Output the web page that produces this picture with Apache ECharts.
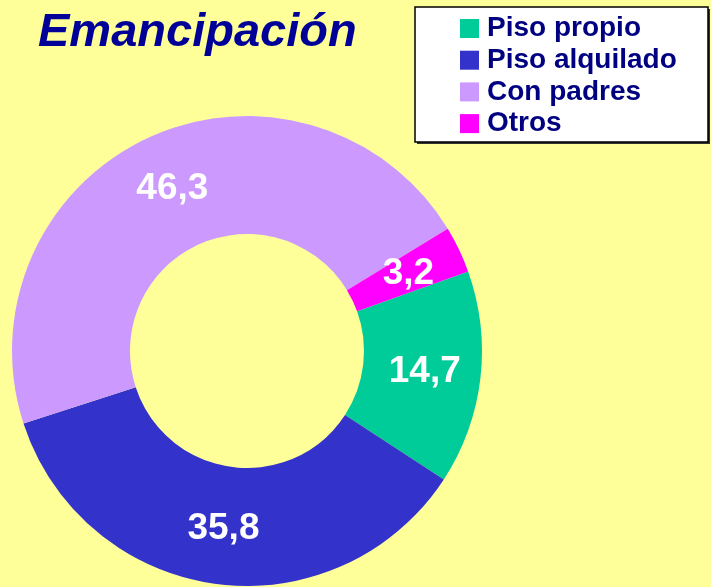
<!DOCTYPE html>
<html>
<head>
<meta charset="utf-8">
<script src="https://cdn.jsdelivr.net/npm/echarts@6/dist/echarts.min.js"></script>
<style>
  html, body { margin: 0; padding: 0; background: #FFFF99; }
  #chart { width: 711px; height: 587px; }
</style>
</head>
<body>
<div id="chart"></div>
<script>
// datos
var categorias = ['Piso propio', 'Piso alquilado', 'Con padres', 'Otros'];
var valores = [14.7, 35.8, 46.3, 3.2];
var colores = ['#00CC99', '#3333CC', '#CC99FF', '#FF00FF'];

var chart = echarts.init(document.getElementById('chart'));

var datos = categorias.map(function(nombre, i) {
  return { name: nombre, value: valores[i], itemStyle: { color: colores[i] } };
});

var option = {
  backgroundColor: '#FFFF99',
  animation: false,
  title: {
    text: 'Emancipación',
    left: 33,
    top: 5,
    textStyle: {
      fontFamily: 'Liberation Sans, Arial, sans-serif',
      fontSize: 47,
      fontWeight: 'bold',
      fontStyle: 'italic',
      color: '#000099'
    }
  },
  graphic: [
    { type: 'rect', z: 0, shape: { x: 417, y: 9, width: 293, height: 135 }, style: { fill: '#333' } },
    { type: 'rect', z: 1, shape: { x: 415, y: 7, width: 293, height: 135 },
      style: { fill: '#fff', stroke: '#000', lineWidth: 1.5 } }
  ],
  legend: {
    orient: 'vertical',
    left: 455,
    top: 9.5,
    z: 5,
    icon: 'rect',
    itemWidth: 19,
    itemHeight: 19,
    itemGap: 3.7,
    selectedMode: false,
    data: categorias,
    textStyle: {
      fontFamily: 'Liberation Sans, Arial, sans-serif',
      fontSize: 28,
      fontWeight: 'bold',
      color: '#000080',
      padding: [0, 0, 0, 3]
    }
  },
  series: [{
    type: 'pie',
    center: [247, 351],
    radius: [117, 235],
    startAngle: 19.8,
    clockwise: true,
    silent: true,
    itemStyle: { borderWidth: 0 },
    label: {
      show: true,
      position: 'inside',
      fontFamily: 'Liberation Sans, Arial, sans-serif',
      fontSize: 37,
      fontWeight: 'bold',
      color: '#fff',
      formatter: function(p) { return String(p.value).replace('.', ','); }
    },
    labelLine: { show: false },
    data: datos
  }]
};

chart.setOption(option);
</script>
</body>
</html>
